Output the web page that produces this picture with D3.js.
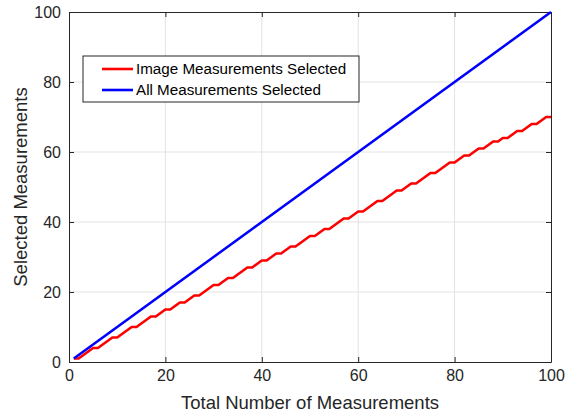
<!DOCTYPE html>
<html>
<head>
<meta charset="utf-8">
<script src="https://cdn.jsdelivr.net/npm/d3@7"></script>
<style>
  body { margin: 0; background: #fff; }
  svg { display: block; font-family: "Liberation Sans", Arial, sans-serif; }
</style>
</head>
<body>
<svg id="chart" width="573" height="414"></svg>
<script>
// x positions: total number of measurements
const totals = d3.range(1, 101);
// all measurements selected
const allSelected = [
  1,2,3,4,5,6,7,8,9,10,11,12,13,14,15,16,17,18,19,20,
  21,22,23,24,25,26,27,28,29,30,31,32,33,34,35,36,37,38,39,40,
  41,42,43,44,45,46,47,48,49,50,51,52,53,54,55,56,57,58,59,60,
  61,62,63,64,65,66,67,68,69,70,71,72,73,74,75,76,77,78,79,80,
  81,82,83,84,85,86,87,88,89,90,91,92,93,94,95,96,97,98,99,100
];
const imageSelected = [
  1,1,2,3,4,4,5,6,7,7,8,9,10,10,11,12,13,13,14,15,
  15,16,17,17,18,19,19,20,21,22,22,23,24,24,25,26,27,27,28,29,
  29,30,31,31,32,33,33,34,35,36,36,37,38,38,39,40,41,41,42,43,
  43,44,45,46,46,47,48,49,49,50,51,51,52,53,54,54,55,56,57,57,
  58,59,59,60,61,61,62,63,63,64,64,65,66,66,67,68,68,69,70,70
];
const xTicks = [0, 20, 40, 60, 80, 100];
const yTicks = [0, 20, 40, 60, 80, 100];
const seriesNames = ['Image Measurements Selected', 'All Measurements Selected'];
const seriesColors = ['#ff0000', '#0000ff'];

const svg = d3.select('#chart');
const m = {left: 69, right: 551, top: 12, bottom: 362};
const x = d3.scaleLinear().domain([0, 100]).range([m.left, m.right]);
const y = d3.scaleLinear().domain([0, 100]).range([m.bottom, m.top]);
const axisColor = '#262626';

// grid
svg.append('g').selectAll('line.gx').data(xTicks.slice(1, -1)).enter().append('line')
  .attr('x1', d => x(d)).attr('x2', d => x(d))
  .attr('y1', m.top).attr('y2', m.bottom)
  .attr('stroke', '#e3e3e3').attr('stroke-width', 1);
svg.append('g').selectAll('line.gy').data(yTicks.slice(1, -1)).enter().append('line')
  .attr('y1', d => y(d)).attr('y2', d => y(d))
  .attr('x1', m.left).attr('x2', m.right)
  .attr('stroke', '#e3e3e3').attr('stroke-width', 1);

// axes (ticks inward, box on)
const fs = '16px';
const styleAxis = (g) => {
  g.select('.domain').attr('stroke', axisColor);
  g.selectAll('.tick line').attr('stroke', axisColor);
  g.selectAll('.tick text').attr('fill', axisColor).style('font-size', fs)
    .style('font-family', '"Liberation Sans", Arial, sans-serif');
};
svg.append('g').attr('transform', `translate(0,${m.bottom})`)
  .call(d3.axisBottom(x).tickValues(xTicks).tickSizeInner(-5).tickSizeOuter(0).tickPadding(8))
  .call(styleAxis);
svg.append('g').attr('transform', `translate(${m.left},0)`)
  .call(d3.axisLeft(y).tickValues(yTicks).tickSizeInner(-5).tickSizeOuter(0).tickPadding(8))
  .call(styleAxis);
svg.append('g').attr('transform', `translate(0,${m.top})`)
  .call(d3.axisTop(x).tickValues(xTicks).tickSizeInner(-5).tickSizeOuter(0).tickFormat(''))
  .call(styleAxis);
svg.append('g').attr('transform', `translate(${m.right},0)`)
  .call(d3.axisRight(y).tickValues(yTicks).tickSizeInner(-5).tickSizeOuter(0).tickFormat(''))
  .call(styleAxis);

// lines
const line = d3.line().x((d, i) => x(totals[i])).y(d => y(d));
[imageSelected, allSelected].forEach((vals, k) => {
  svg.append('path').datum(vals)
    .attr('d', line)
    .attr('fill', 'none')
    .attr('stroke', seriesColors[k])
    .attr('stroke-width', 2.6)
    .attr('stroke-linejoin', 'round');
});

// axis titles
svg.append('text').attr('x', (m.left + m.right) / 2).attr('y', 409)
  .attr('text-anchor', 'middle').attr('fill', axisColor).style('font-size', '18.5px')
  .text('Total Number of Measurements');
svg.append('text').attr('transform', `translate(27,${(m.top + m.bottom) / 2}) rotate(-90)`)
  .attr('text-anchor', 'middle').attr('fill', axisColor).style('font-size', '18.5px')
  .text('Selected Measurements');

// legend
const lg = svg.append('g');
lg.append('rect').attr('x', 83).attr('y', 56).attr('width', 276).attr('height', 46)
  .attr('fill', '#fff').attr('stroke', axisColor).attr('stroke-width', 1);
seriesNames.forEach((name, k) => {
  const ly = 69 + k * 21;
  lg.append('line').attr('x1', 102).attr('x2', 133).attr('y1', ly).attr('y2', ly)
    .attr('stroke', seriesColors[k]).attr('stroke-width', 2.6);
  lg.append('text').attr('x', 136).attr('y', ly + 5).attr('fill', '#000')
    .style('font-size', '15.2px').text(name);
});
</script>
</body>
</html>
